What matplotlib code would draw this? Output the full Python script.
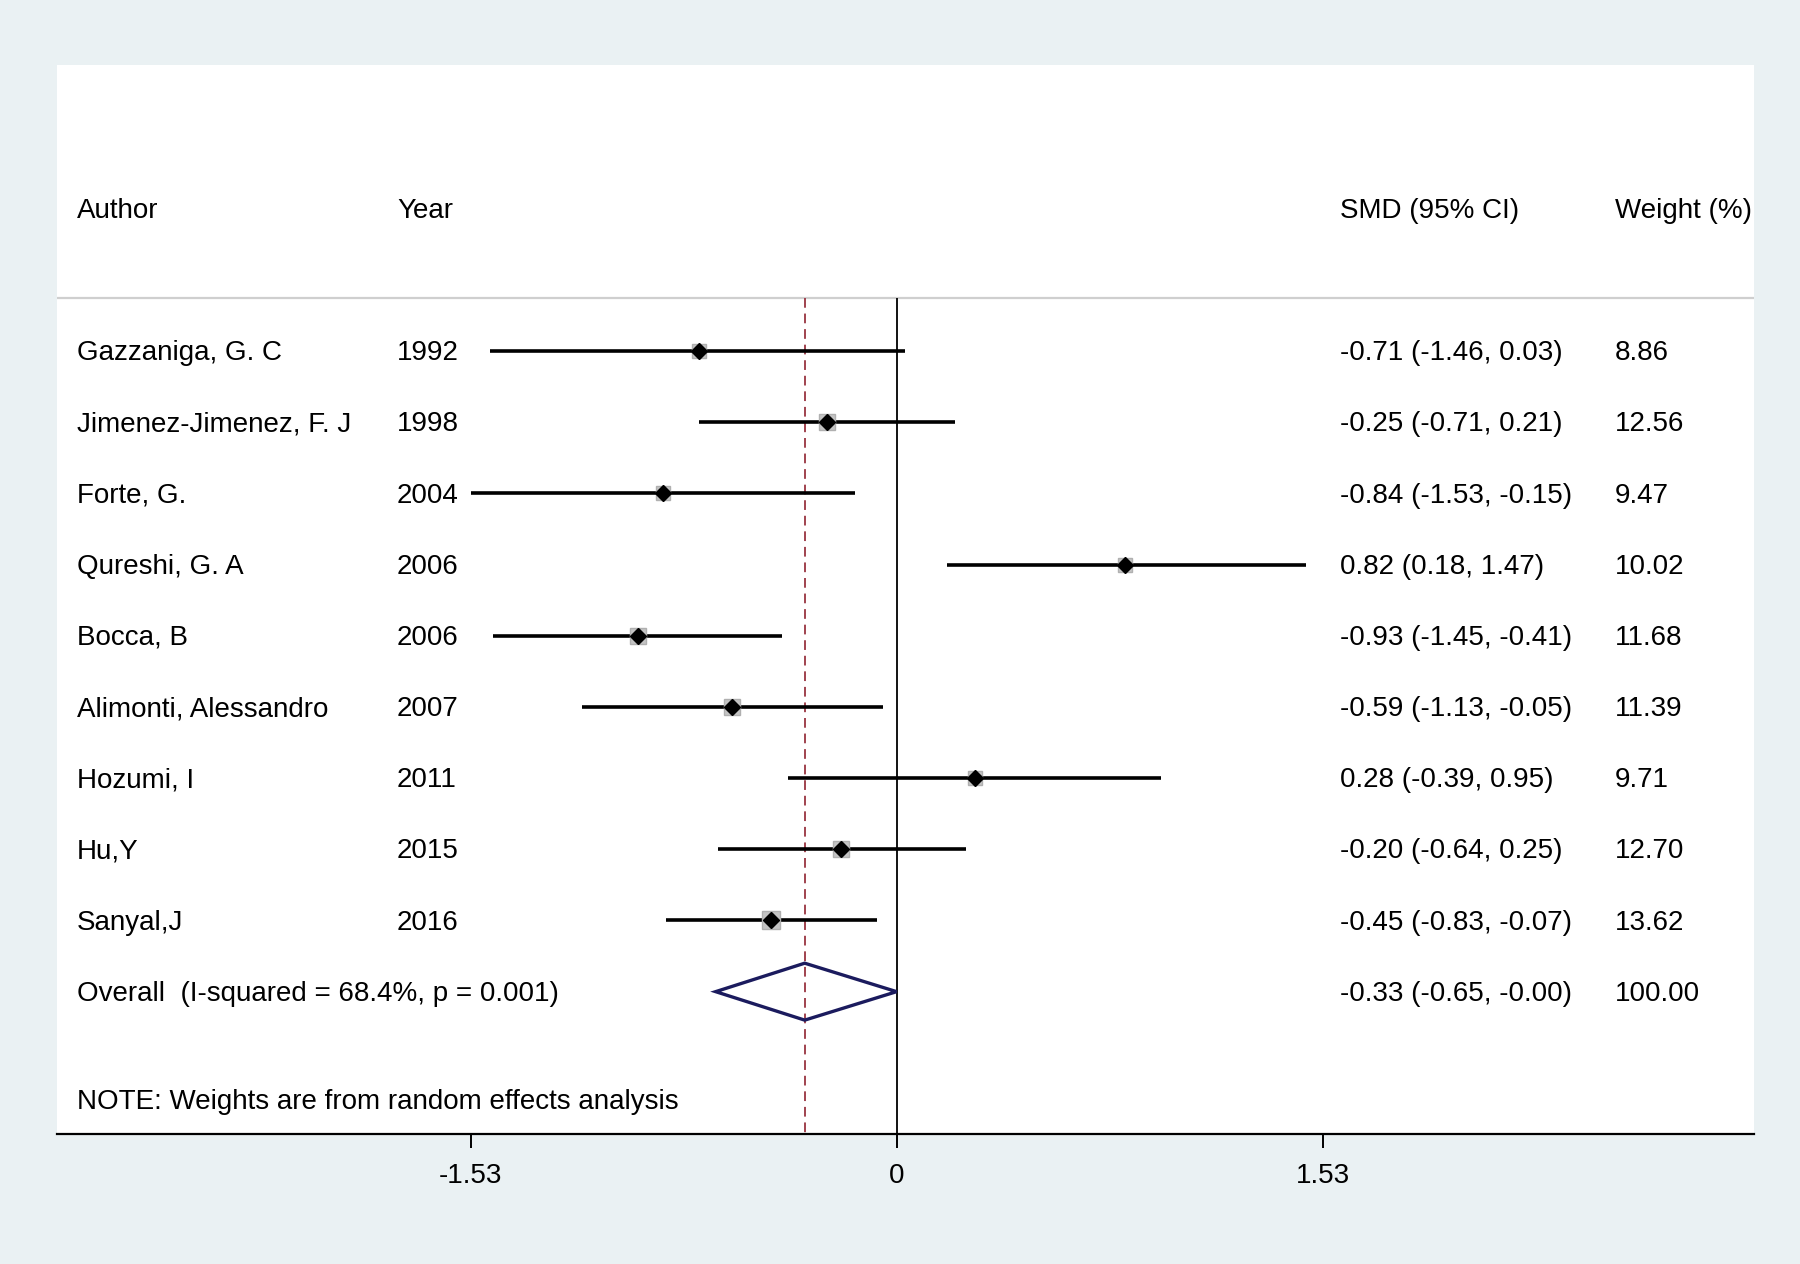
import numpy as np
import matplotlib
matplotlib.use("Agg")
import matplotlib.pyplot as plt

# study data
authors = ["Gazzaniga, G. C", "Jimenez-Jimenez, F. J", "Forte, G.", "Qureshi, G. A",
           "Bocca, B", "Alimonti, Alessandro", "Hozumi, I", "Hu,Y", "Sanyal,J"]
years = [1992, 1998, 2004, 2006, 2006, 2007, 2011, 2015, 2016]
smd = [-0.71, -0.25, -0.84, 0.82, -0.93, -0.59, 0.28, -0.20, -0.45]
ci_low = [-1.46, -0.71, -1.53, 0.18, -1.45, -1.13, -0.39, -0.64, -0.83]
ci_high = [0.03, 0.21, -0.15, 1.47, -0.41, -0.05, 0.95, 0.25, -0.07]
weights = [8.86, 12.56, 9.47, 10.02, 11.68, 11.39, 9.71, 12.70, 13.62]

overall_smd = -0.33
overall_low = -0.65
overall_high = -0.00
overall_weight = 100.00
overall_label = "Overall  (I-squared = 68.4%, p = 0.001)"
note = "NOTE: Weights are from random effects analysis"
tick_vals = [-1.53, 0, 1.53]
tick_labels = ["-1.53", "0", "1.53"]

plt.rcParams["font.family"] = ["Liberation Sans", "DejaVu Sans"]
FS = 20
BG = "#eaf1f3"

W, H = 1800, 1264
fig = plt.figure(figsize=(W / 100, H / 100), dpi=100, facecolor=BG)
ax = fig.add_axes([57 / W, 1 - 1134 / H, (1754 - 57) / W, (1134 - 65) / H])
ax.set_facecolor("white")
ax.set_xlim(-3.016, 3.080)
ax.set_ylim(11.0, -4.02)

n = len(authors)
rows = np.arange(n)
overall_row = n
header_row = -2
header_line = -0.74
dy = 0.03  # nudge text to sit on the row line

# column x positions (data units)
x_author, x_year, x_smd, x_weight = -2.944, -1.795, 1.592, 2.581

ax.axhline(header_line, color="#cfcfcf", lw=1.6, zorder=1)
ax.vlines(0, header_line, 11.0, color="black", lw=1.3, zorder=2)
ax.vlines(overall_smd, header_line, 11.0, color="#a0424e", lw=1.4,
          linestyles=(0, (5, 3)), zorder=2)

# header
for x, s in [(x_author, "Author"), (x_year, "Year"),
             (x_smd, "SMD (95% CI)"), (x_weight, "Weight (%)")]:
    ax.text(x, header_row + dy, s, fontsize=FS, va="center", ha="left")

# studies
for i in range(n):
    y = rows[i]
    ax.hlines(y, ci_low[i], ci_high[i], color="black", lw=2.6, zorder=3)
    ax.plot(smd[i], y, marker="s", ms=3.4 * np.sqrt(weights[i]), color="#c4c4c4",
            markeredgecolor="#b0b0b0", zorder=4)
    ax.plot(smd[i], y, marker="D", ms=7.8, color="black", zorder=5)
    ax.text(x_author, y + dy, authors[i], fontsize=FS, va="center", ha="left")
    ax.text(x_year, y + dy, str(years[i]), fontsize=FS, va="center", ha="left")
    ax.text(x_smd, y + dy, f"{smd[i]:.2f} ({ci_low[i]:.2f}, {ci_high[i]:.2f})",
            fontsize=FS, va="center", ha="left")
    ax.text(x_weight, y + dy, f"{weights[i]:.2f}", fontsize=FS, va="center", ha="left")

# overall diamond
dh = 0.4
ax.fill([overall_low, overall_smd, overall_high, overall_smd],
        [overall_row, overall_row - dh, overall_row, overall_row + dh],
        facecolor="none", edgecolor="#1b1b5e", lw=2.4, zorder=5)
ax.text(x_author, overall_row + dy, overall_label, fontsize=FS, va="center", ha="left")
ax.text(x_smd, overall_row + dy,
        f"{overall_smd:.2f} ({overall_low:.2f}, {overall_high:.2f})",
        fontsize=FS, va="center", ha="left")
ax.text(x_weight, overall_row + dy, f"{overall_weight:.2f}", fontsize=FS,
        va="center", ha="left")

ax.text(x_author, 10.52 + dy, note, fontsize=FS, va="center", ha="left")

# axis styling
for side in ["top", "left", "right"]:
    ax.spines[side].set_visible(False)
ax.spines["bottom"].set_linewidth(1.6)
ax.set_yticks([])
ax.set_xticks(tick_vals)
ax.set_xticklabels(tick_labels, fontsize=FS)
ax.tick_params(axis="x", direction="out", length=10, width=1.4, pad=11)

fig.savefig("out.png", dpi=100, facecolor=BG)
